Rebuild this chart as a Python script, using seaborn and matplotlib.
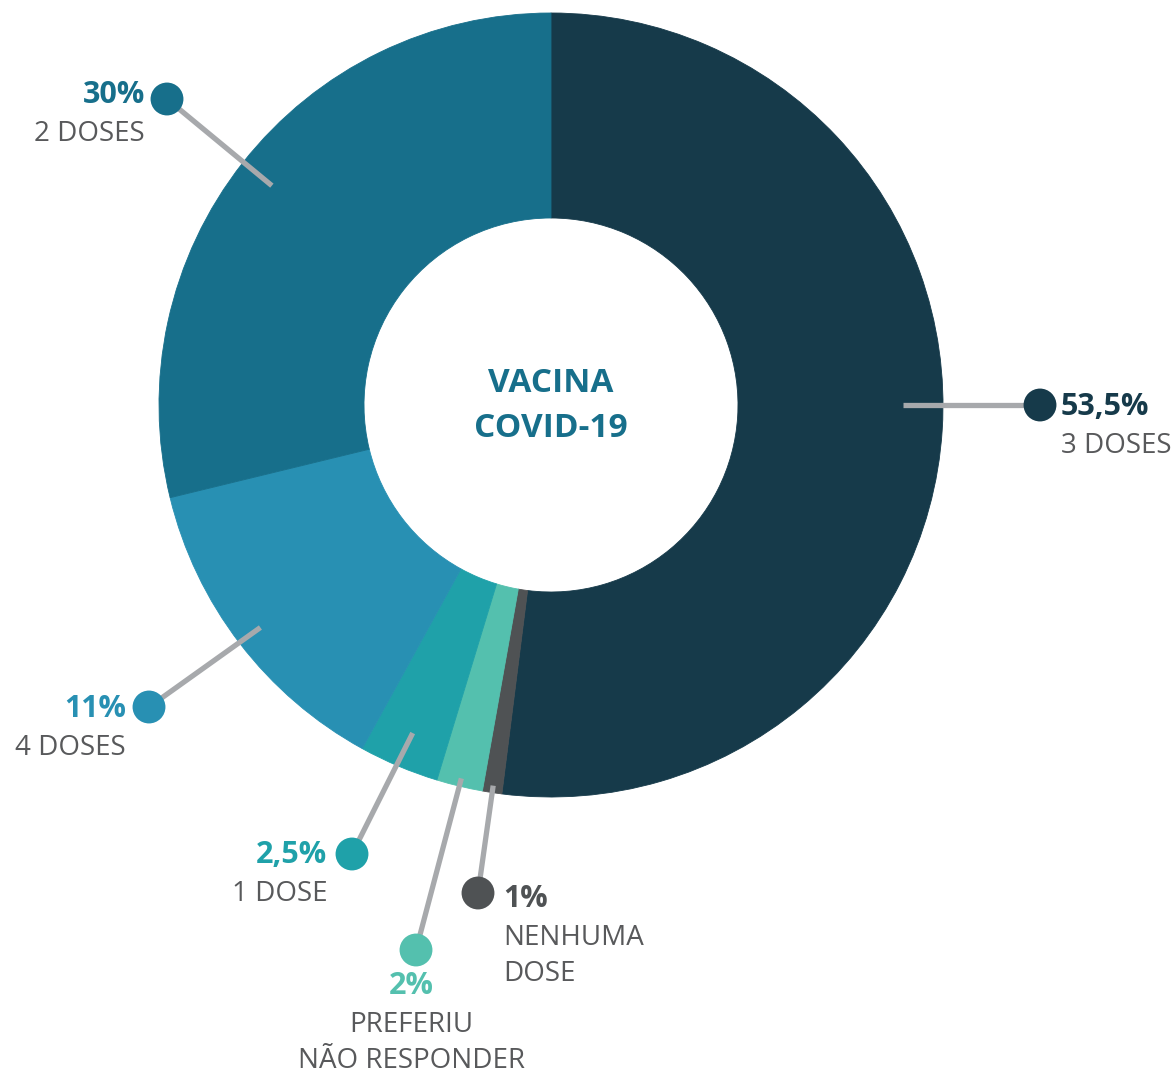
import numpy as np
import pandas as pd
import matplotlib
matplotlib.use("Agg")
import matplotlib.pyplot as plt
import seaborn as sns

# === DATA ===
# categories in clockwise order starting at 12 o'clock
CATEGORIES = ["3 DOSES", "NENHUMA\nDOSE", "PREFERIU\nNÃO RESPONDER", "1 DOSE", "4 DOSES", "2 DOSES"]
PCT_LABELS = ["53,5%", "1%", "2%", "2,5%", "11%", "30%"]
# arc sizes as drawn in the original graphic (measured from the wedges, they do
# not follow the printed percentages exactly)
ARC_SHARE = [52.0, 0.8, 1.9, 3.3, 13.2, 28.8]
COLORS = ["#163a4a", "#4f5254", "#54c0ae", "#1fa1a9", "#2890b3", "#176f8b"]
CENTER_TITLE = "VACINA\nCOVID-19"

# === LAYOUT (pixels, y pointing down) ===
CX, CY = 551, 405
R_OUT, R_IN = 392, 187
DOTS = [(1040, 405), (478, 893), (416, 950), (352, 854), (149, 707), (167, 99)]
LEADER_R = [352, 385, 384, 356, 366, 355]
ANGLE_NUDGE = [-3.6, 0, 0, 0, 0, 0]
# (x, baseline of pct, ha) ; the category lines follow below
TEXT_POS = [(1061, 415, "left"), (503, 907, "left"), (411, 994, "center"),
            (327, 863, "right"), (126, 717, "right"), (145, 103, "right")]
LINE_STEP = 36

NAME_GREY = "#58595b"
LEADER_GREY = "#a7a9ac"

sns.set_style("white")
plt.rcParams['font.family'] = ['Open Sans', 'DejaVu Sans']

fig = plt.figure(figsize=(11.76, 10.75), dpi=100)
ax = fig.add_axes([0, 0, 1, 1])

wedges, _ = ax.pie(
    ARC_SHARE, colors=COLORS, startangle=-90, counterclock=True,
    center=(CX, CY), radius=R_OUT,
    wedgeprops=dict(width=R_OUT - R_IN, linewidth=0.6),
)
for w, c in zip(wedges, COLORS):
    w.set_edgecolor(c)
ax.set_xlim(0, 1176)
ax.set_ylim(1075, 0)
ax.set_aspect("equal")
ax.axis("off")

# leader lines from the middle of each wedge to its dot
for w, (dx, dy), r, nudge in zip(wedges, DOTS, LEADER_R, ANGLE_NUDGE):
    mid = np.deg2rad((w.theta1 + w.theta2) / 2 + nudge)
    sx, sy = CX + r * np.cos(mid), CY + r * np.sin(mid)
    ax.plot([sx, dx], [sy, dy], color=LEADER_GREY, lw=3.8, solid_capstyle="butt", zorder=3)

dots = pd.DataFrame({"x": [d[0] for d in DOTS], "y": [d[1] for d in DOTS], "cat": CATEGORIES})
sns.scatterplot(data=dots, x="x", y="y", hue="cat", palette=COLORS, s=560,
                linewidth=0, legend=False, ax=ax, zorder=4)
ax.set_xlim(0, 1176)
ax.set_ylim(1075, 0)

for cat, pct, col, (tx, ty, ha) in zip(CATEGORIES, PCT_LABELS, COLORS, TEXT_POS):
    ax.text(tx, ty, pct, color=col, fontsize=22, fontweight="bold", ha=ha, va="baseline", zorder=5)
    for k, line in enumerate(cat.split("\n")):
        ax.text(tx, ty + LINE_STEP * (k + 1) + 2, line, color=NAME_GREY,
                fontsize=20, ha=ha, va="baseline")

title_lines = CENTER_TITLE.split("\n")
ax.text(CX, 392, title_lines[0], color=COLORS[-1], fontsize=24, fontweight="bold", ha="center", va="baseline")
ax.text(CX, 437, title_lines[1], color=COLORS[-1], fontsize=24, fontweight="bold", ha="center", va="baseline")

fig.savefig("out.png", dpi=100, facecolor="white")
